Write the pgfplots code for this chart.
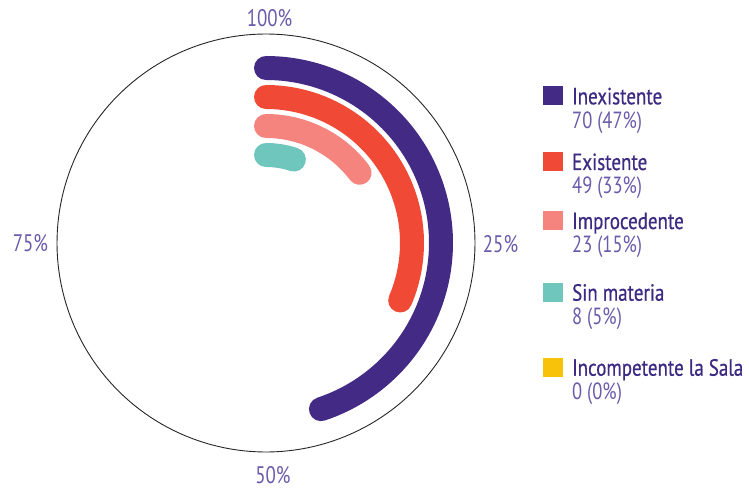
\documentclass[border=0pt]{standalone}
\usepackage{pgfplots}
\pgfplotsset{compat=1.18}
\usepackage{fontspec}
\setmainfont[FakeStretch=0.79]{PT Sans}
\newfontfamily\namefont[FakeStretch=0.81,FakeBold=0.6]{PT Sans}
\definecolor{cInex}{HTML}{432A85}
\definecolor{cExis}{HTML}{F04A36}
\definecolor{cImpr}{HTML}{F5837E}
\definecolor{cSin}{HTML}{6EC6BD}
\definecolor{cInc}{HTML}{F9C20A}
\definecolor{tname}{HTML}{3D2A82}
\definecolor{tcount}{HTML}{6B5BAA}
% #1 = space below the name's baseline (row pitch - 20bp), #2 name, #3 count
\newcommand\LE[3]{\rule[-#1bp]{0pt}{\dimexpr20bp+#1bp\relax}\rlap{\smash{\raisebox{-24bp}{\color{tcount}#3}}}{\namefont\color{tname}#2}}
\def\k{2.31}
\begin{document}
\begin{tikzpicture}
\begin{axis}[
  scale only axis, width=749bp, height=491bp,
  xmin=-266, xmax=483, ymin=-248, ymax=243,
  hide axis, clip=false,
  legend image code/.code={\fill[#1, draw=none] (0bp,-1bp) rectangle (20bp,18bp); \path (29bp,0bp);},
  legend style={at={(axis cs:277,158.7)}, anchor=north west, draw=none, fill=none,
    inner sep=0pt, outer sep=0pt, row sep=0pt, column sep=0pt,
    font=\fontsize{23.5}{24}\selectfont,
    cells={anchor=base west},
    nodes={inner sep=0pt, outer sep=0pt, text depth={}}},
]
% outer circle
\addplot[forget plot, black!85, line width=0.9bp, domain=0:360, samples=200] ({209*sin(x)}, {209*cos(x)});
% radial bars: value -> angle (clockwise from top)
\addplot[forget plot, cInex, line width=24bp, line cap=round, domain=0:70, samples=90] ({175*sin(x*\k)}, {175*cos(x*\k)});
\addplot[forget plot, cExis, line width=24bp, line cap=round, domain=0:49, samples=70] ({146*sin(x*\k)}, {146*cos(x*\k)});
\addplot[forget plot, cImpr, line width=24bp, line cap=round, domain=0:23, samples=40] ({117*sin(x*\k)}, {117*cos(x*\k)});
\addplot[forget plot, cSin, line width=24bp, line cap=round, domain=0:8, samples=20] ({88*sin(x*\k)}, {88*cos(x*\k)});
\addlegendimage{fill=cInex}\addlegendentry{\LE{45.7}{Inexistente}{70 (47\%)}}
\addlegendimage{fill=cExis}\addlegendentry{\LE{39}{Existente}{49 (33\%)}}
\addlegendimage{fill=cImpr}\addlegendentry{\LE{51.7}{Improcedente}{23 (15\%)}}
\addlegendimage{fill=cSin}\addlegendentry{\LE{55}{Sin materia}{8 (5\%)}}
\addlegendimage{fill=cInc}\addlegendentry{\LE{30}{Incompetente la Sala}{0 (0\%)}}
\path (rel axis cs:0,0) rectangle (rel axis cs:1,1);
\node[anchor=base, text=tcount, font=\fontsize{24}{24}\selectfont, inner sep=0pt] at (axis cs:3.5,216) {100\%};
\node[anchor=base, text=tcount, font=\fontsize{24}{24}\selectfont, inner sep=0pt] at (axis cs:234.5,-9.7) {25\%};
\node[anchor=base, text=tcount, font=\fontsize{24}{24}\selectfont, inner sep=0pt] at (axis cs:7,-240) {50\%};
\node[anchor=base, text=tcount, font=\fontsize{24}{24}\selectfont, inner sep=0pt] at (axis cs:-235.5,-9) {75\%};
\end{axis}
\pgfresetboundingbox
\path[use as bounding box] (current axis.south west) rectangle (current axis.north east);
\end{tikzpicture}
\end{document}
